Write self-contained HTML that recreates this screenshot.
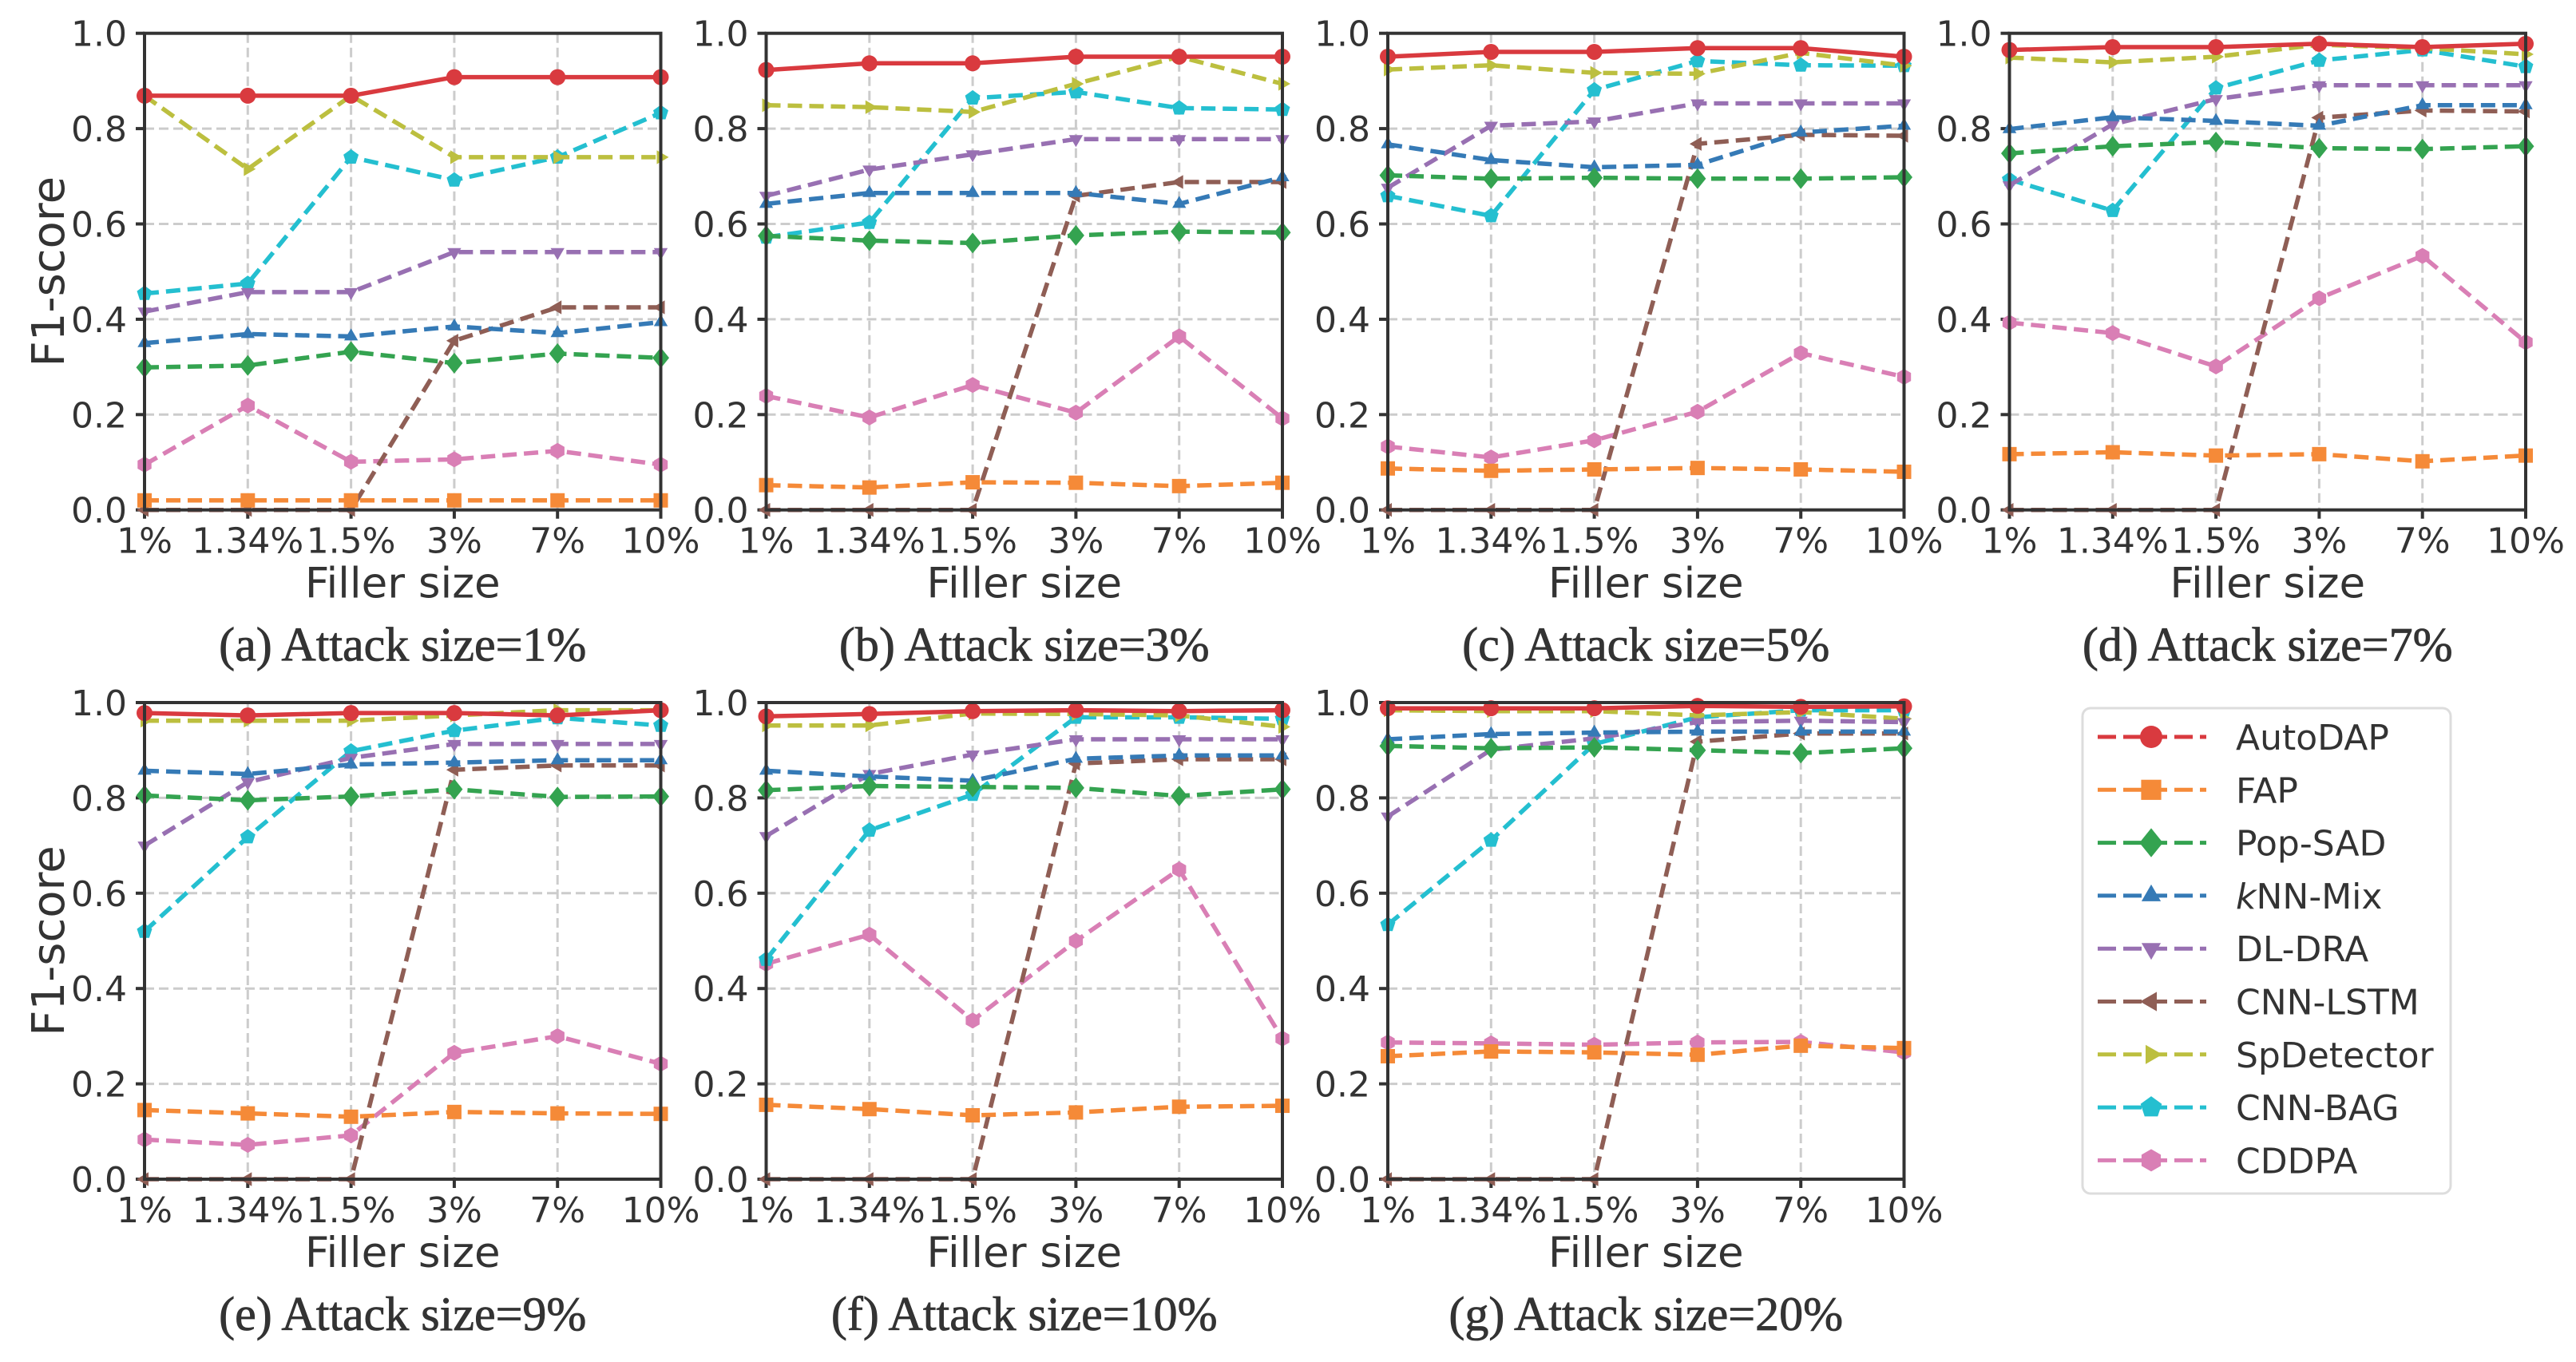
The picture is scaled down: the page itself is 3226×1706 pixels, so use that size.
<!DOCTYPE html>
<html><head><meta charset="utf-8">
<style>
html,body{margin:0;padding:0;background:#fff;}
svg{display:block;}
</style></head>
<body>
<svg id="chart" xmlns="http://www.w3.org/2000/svg" width="3226" height="1706" viewBox="0 0 3226 1706"></svg>
<script>
const categories = ["1%","1.34%","1.5%","3%","7%","10%"];
const yTicks = [0,0.2,0.4,0.6,0.8,1.0];
const yTickLabels = ["0.0","0.2","0.4","0.6","0.8","1.0"];
const seriesNames = ["AutoDAP","FAP","Pop-SAD","kNN-Mix","DL-DRA","CNN-LSTM","SpDetector","CNN-BAG","CDDPA"];
const captions = ["(a) Attack size=1%","(b) Attack size=3%","(c) Attack size=5%","(d) Attack size=7%","(e) Attack size=9%","(f) Attack size=10%","(g) Attack size=20%"];

const panelA = [
 [0.869,0.869,0.869,0.908,0.908,0.908],
 [0.02,0.02,0.02,0.02,0.02,0.02],
 [0.299,0.303,0.332,0.308,0.328,0.319],
 [0.35,0.369,0.364,0.385,0.371,0.394],
 [0.416,0.457,0.457,0.541,0.541,0.541],
 [0,0,0,0.355,0.425,0.425],
 [0.869,0.715,0.869,0.74,0.74,0.74],
 [0.454,0.475,0.74,0.692,0.74,0.833],
 [0.095,0.219,0.101,0.106,0.124,0.095]];
const panelB = [
 [0.923,0.937,0.937,0.951,0.951,0.951],
 [0.052,0.047,0.058,0.057,0.05,0.057],
 [0.575,0.565,0.56,0.576,0.584,0.582],
 [0.642,0.665,0.665,0.665,0.642,0.698],
 [0.659,0.714,0.746,0.778,0.778,0.778],
 [0,0,0,0.659,0.688,0.688],
 [0.849,0.845,0.835,0.894,0.951,0.894],
 [0.572,0.603,0.864,0.877,0.843,0.84],
 [0.239,0.194,0.262,0.204,0.364,0.192]];
const panelC = [
 [0.951,0.961,0.961,0.969,0.969,0.951],
 [0.087,0.082,0.085,0.088,0.085,0.08],
 [0.702,0.695,0.697,0.695,0.695,0.698],
 [0.767,0.734,0.719,0.724,0.792,0.806],
 [0.676,0.806,0.815,0.853,0.853,0.853],
 [0,0,0,0.768,0.787,0.785],
 [0.924,0.933,0.917,0.915,0.959,0.932],
 [0.659,0.617,0.881,0.942,0.933,0.932],
 [0.133,0.11,0.146,0.206,0.329,0.279]];
const panelD = [
 [0.965,0.971,0.971,0.978,0.971,0.978],
 [0.117,0.121,0.114,0.117,0.102,0.114],
 [0.748,0.763,0.772,0.759,0.757,0.763],
 [0.799,0.824,0.816,0.806,0.849,0.849],
 [0.681,0.809,0.862,0.891,0.891,0.891],
 [0,0,0,0.823,0.838,0.836],
 [0.949,0.939,0.951,0.976,0.969,0.956],
 [0.693,0.628,0.885,0.943,0.965,0.93],
 [0.393,0.371,0.301,0.444,0.533,0.352]];
const panelE = [
 [0.978,0.973,0.978,0.978,0.973,0.984],
 [0.145,0.138,0.131,0.141,0.138,0.137],
 [0.805,0.795,0.803,0.818,0.802,0.803],
 [0.857,0.85,0.87,0.874,0.879,0.879],
 [0.7,0.833,0.884,0.913,0.913,0.913],
 [0,0,0,0.859,0.868,0.868],
 [0.962,0.962,0.962,0.973,0.984,0.984],
 [0.52,0.718,0.898,0.941,0.968,0.952],
 [0.083,0.072,0.092,0.265,0.30,0.242]];
const panelF = [
 [0.971,0.976,0.982,0.984,0.982,0.984],
 [0.156,0.147,0.134,0.14,0.152,0.154],
 [0.816,0.825,0.823,0.821,0.804,0.818],
 [0.857,0.845,0.836,0.882,0.889,0.889],
 [0.72,0.85,0.891,0.923,0.923,0.923],
 [0,0,0,0.872,0.881,0.881],
 [0.952,0.952,0.977,0.976,0.973,0.949],
 [0.461,0.732,0.807,0.969,0.969,0.966],
 [0.452,0.513,0.333,0.5,0.65,0.295]];
const panelG = [
 [0.988,0.988,0.988,0.993,0.991,0.992],
 [0.258,0.268,0.266,0.261,0.28,0.275],
 [0.909,0.904,0.906,0.9,0.894,0.904],
 [0.923,0.934,0.937,0.939,0.939,0.939],
 [0.761,0.901,0.925,0.959,0.962,0.959],
 [0,0,0,0.918,0.935,0.935],
 [0.984,0.982,0.982,0.973,0.98,0.966],
 [0.534,0.711,0.913,0.969,0.984,0.984],
 [0.287,0.285,0.282,0.287,0.288,0.266]];
const panelsData = [panelA,panelB,panelC,panelD,panelE,panelF,panelG];

const colors = ["#d93a3f","#f58a38","#34a350","#357ab6","#9870b2","#8f5e55","#bcbf3f","#24bfd0","#d97fb5"];
const markers = ["circle","square","diamond","tri-up","tri-down","tri-left","tri-right","pentagon","hexagon"];

const NS="http://www.w3.org/2000/svg";
const svg=document.getElementById('chart');
function mk(tag,attrs,parent){const e=document.createElementNS(NS,tag);for(const k in attrs)e.setAttribute(k,attrs[k]);(parent||svg).appendChild(e);return e;}

const PW=646.5, PH=597;
const panelX=[181,959.5,1738,2516.5,181,959.5,1738];
const panelY=[41.7,41.7,41.7,41.7,880,880,880];
const TXT="#333333";

function markerPath(type,cx,cy,r){
  const pts=(n,rot)=>{let a=[];for(let i=0;i<n;i++){const t=rot+i*2*Math.PI/n;a.push((cx+r*Math.cos(t)).toFixed(1)+","+(cy+r*Math.sin(t)).toFixed(1));}return a.join(" ");};
  switch(type){
    case "square": return {tag:"rect",a:{x:cx-r*0.9,y:cy-r*0.9,width:r*1.8,height:r*1.8}};
    case "diamond": return {tag:"polygon",a:{points:`${cx},${cy-r*1.3} ${cx+r*1.05},${cy} ${cx},${cy+r*1.3} ${cx-r*1.05},${cy}`}};
    case "tri-up": return {tag:"polygon",a:{points:pts(3,-Math.PI/2)}};
    case "tri-down": return {tag:"polygon",a:{points:pts(3,Math.PI/2)}};
    case "tri-left": return {tag:"polygon",a:{points:pts(3,Math.PI)}};
    case "tri-right": return {tag:"polygon",a:{points:pts(3,0)}};
    case "pentagon": return {tag:"polygon",a:{points:pts(5,-Math.PI/2)}};
    case "hexagon": return {tag:"polygon",a:{points:pts(6,-Math.PI/2)}};
    default: return {tag:"circle",a:{cx:cx,cy:cy,r:r}};
  }
}

panelsData.forEach((data,p)=>{
  const x0=panelX[p], y0=panelY[p];
  const g=mk('g',{});
  
  
  const xs=i=>x0+i*PW/(categories.length-1);
  const ys=v=>y0+PH*(1-v);
  yTicks.forEach((t,i)=>{
    if(t>0&&t<1){const l=mk('line',{x1:x0,x2:x0+PW,y1:ys(t),y2:ys(t),stroke:"#cccccc","stroke-width":3,"stroke-dasharray":"12 6"},g);
      }
    const tk=mk('line',{x1:x0-11,x2:x0,y1:ys(t),y2:ys(t),stroke:"#333","stroke-width":4},g);
    
    const tl=mk('text',{x:x0-22,y:ys(t)+16,"text-anchor":"end","font-family":"DejaVu Sans, Liberation Sans, sans-serif","font-size":44,fill:TXT},g);
    tl.textContent=yTickLabels[i];
    
  });
  categories.forEach((c,i)=>{
    if(i>0&&i<categories.length-1){const l=mk('line',{x1:xs(i),x2:xs(i),y1:y0,y2:y0+PH,stroke:"#cccccc","stroke-width":3,"stroke-dasharray":"12 6"},g);
      }
    const tk=mk('line',{x1:xs(i),x2:xs(i),y1:y0+PH,y2:y0+PH+11,stroke:"#333","stroke-width":4},g);
    
    const tl=mk('text',{x:xs(i),y:y0+PH+54,"text-anchor":"middle","font-family":"DejaVu Sans, Liberation Sans, sans-serif","font-size":44,fill:TXT},g);
    tl.textContent=c;
    
  });
  for(let s=data.length-1;s>=0;s--){
    const vals=data[s];
    const sg=mk('g',{},g);
    
    
    const d=vals.map((v,i)=>(i?"L":"M")+xs(i).toFixed(1)+","+ys(v).toFixed(1)).join(" ");
    const attrs={d:d,fill:"none",stroke:colors[s],"stroke-width":5.5,"stroke-linejoin":"round"};
    if(s>0)attrs["stroke-dasharray"]="18 9";
    const path=mk('path',attrs,sg);
    
    
    vals.forEach((v,i)=>{
      const m=markerPath(markers[s],xs(i),ys(v),10);
      m.a.fill=colors[s];
      const el=mk(m.tag,m.a,sg);
      
      
    });
  }
  const sp=mk('rect',{x:x0,y:y0,width:PW,height:PH,fill:"none",stroke:"#333","stroke-width":4},g);
  
  const xl=mk('text',{x:x0+PW/2,y:y0+PH+110,"text-anchor":"middle","font-family":"DejaVu Sans, Liberation Sans, sans-serif","font-size":53,fill:TXT},g);
  xl.textContent="Filler size";
  
  const cap=mk('text',{x:x0+PW/2,y:y0+PH+189,"text-anchor":"middle","font-family":"Liberation Serif, serif","font-size":60,fill:TXT,stroke:TXT,"stroke-width":0.8},g);
  cap.textContent=captions[p];
  
  if(p===0||p===4){
    const cy=y0+PH/2;
    const yl=mk('text',{x:0,y:0,transform:`translate(80,${cy}) rotate(-90)`,"text-anchor":"middle","font-family":"DejaVu Sans, Liberation Sans, sans-serif","font-size":56,fill:TXT},g);
    yl.textContent="F1-score";
    
  }
});

const lg=mk('g',{});


const lb=mk('rect',{x:2608,y:887,width:461,height:608,rx:10,ry:10,fill:"#fff",stroke:"#dddddd","stroke-width":3},lg);

seriesNames.forEach((n,s)=>{
  const cy=923+s*66.3;
  const eg=mk('g',{},lg);
  
  
  mk('line',{x1:2627,x2:2763,y1:cy,y2:cy,stroke:colors[s],"stroke-width":5,"stroke-dasharray":"23 9"},eg);
  const m=markerPath(markers[s],2694,cy,14);
  m.a.fill=colors[s];
  mk(m.tag,m.a,eg);
  const t=mk('text',{x:2800,y:cy+16,"font-family":"DejaVu Sans, Liberation Sans, sans-serif","font-size":44,fill:TXT},eg);
  if(n==="kNN-Mix"){const k=mk('tspan',{"font-style":"italic"},t);k.textContent="k";const r=mk('tspan',{},t);r.textContent="NN-Mix";}
  else t.textContent=n;
});
</script>
</body></html>
